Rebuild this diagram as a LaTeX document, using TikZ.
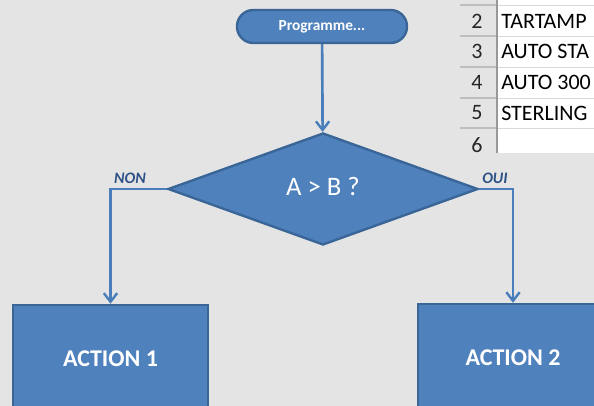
\documentclass[tikz,border=0pt]{standalone}
\usepackage{fontspec}
\setmainfont{Carlito}
\usetikzlibrary{shapes.geometric,arrows.meta}
\definecolor{bg}{HTML}{E4E4E4}
\definecolor{boxfill}{HTML}{4F81BD}
\definecolor{boxline}{HTML}{3A6597}
\definecolor{conn}{HTML}{4A7EBB}
\definecolor{lbl}{HTML}{2E5288}
\definecolor{grid}{HTML}{BEBEBE}
\tikzset{
  shapebox/.style={fill=boxfill, draw=boxline, line width=1.8pt, text=white, inner sep=0pt},
  conn/.style={draw=conn, line width=2pt, -{Straight Barb[length=6.5pt,width=10pt,line width=1.8pt]}},
  brlabel/.style={text=lbl, font=\fontsize{12}{14}\selectfont\bfseries\itshape},
  rownum/.style={font=\fontsize{16.5}{18}\selectfont, text=black!85},
  celltext/.style={font=\fontsize{16.5}{18}\selectfont, text=black, anchor=west, inner sep=0pt}
}
\begin{document}
\begin{tikzpicture}[x=0.75pt,y=-0.75pt]
\clip (0,0) rectangle (594,406);
\fill[bg] (0,0) rectangle (594,406);
% spreadsheet fragment
\fill[white] (497,0) rectangle (600,153);
\foreach \yy in {5,36,67,98,128} {
  \draw[grid, line width=0.8pt] (460,\yy) -- (497,\yy);
  \draw[grid!60, line width=0.6pt] (497,\yy) -- (600,\yy);
}
\draw[grid!80!black, line width=0.8pt] (497,0) -- (497,153);
\node[rownum] (n2) at (477,21) {2};
\node[rownum] (n3) at (477,51) {3};
\node[rownum] (n4) at (477,82) {4};
\node[rownum] (n5) at (477,113) {5};
\node[rownum] (n6) at (477,145) {6};
\node[celltext] (c2) at (501,21) {TARTAMP};
\node[celltext] (c3) at (501,51) {AUTO STA};
\node[celltext] (c4) at (501,82) {AUTO 300};
\node[celltext] (c5) at (501,113) {STERLING};
% flowchart
\node[shapebox, rounded corners=12.3pt, minimum width=127.5pt, minimum height=24.75pt,
      font=\fontsize{11.5}{13}\selectfont\bfseries] (start) at (322,26.5) {Programme...};
\node[shapebox, diamond, minimum width=232.5pt, minimum height=84pt,
      font=\fontsize{20}{22}\selectfont] (dec) at (323,189) {\raisebox{4pt}{A > B ?}};
\node[shapebox, minimum width=146pt, minimum height=81pt,
      font=\fontsize{18}{20}\selectfont\bfseries] (a1) at (110.5,359) {ACTION 1};
\node[shapebox, minimum width=142.5pt, minimum height=81pt,
      font=\fontsize{18}{20}\selectfont\bfseries] (a2) at (513,358) {ACTION 2};
\draw[conn] (start) -- (dec);
\draw[conn] (dec.west) -| (a1.north);
\draw[conn] (dec.east) -| (a2.north);
\node[brlabel] (non) at (130,178) {NON};
\node[brlabel] (oui) at (495,178) {OUI};
\end{tikzpicture}
\end{document}
